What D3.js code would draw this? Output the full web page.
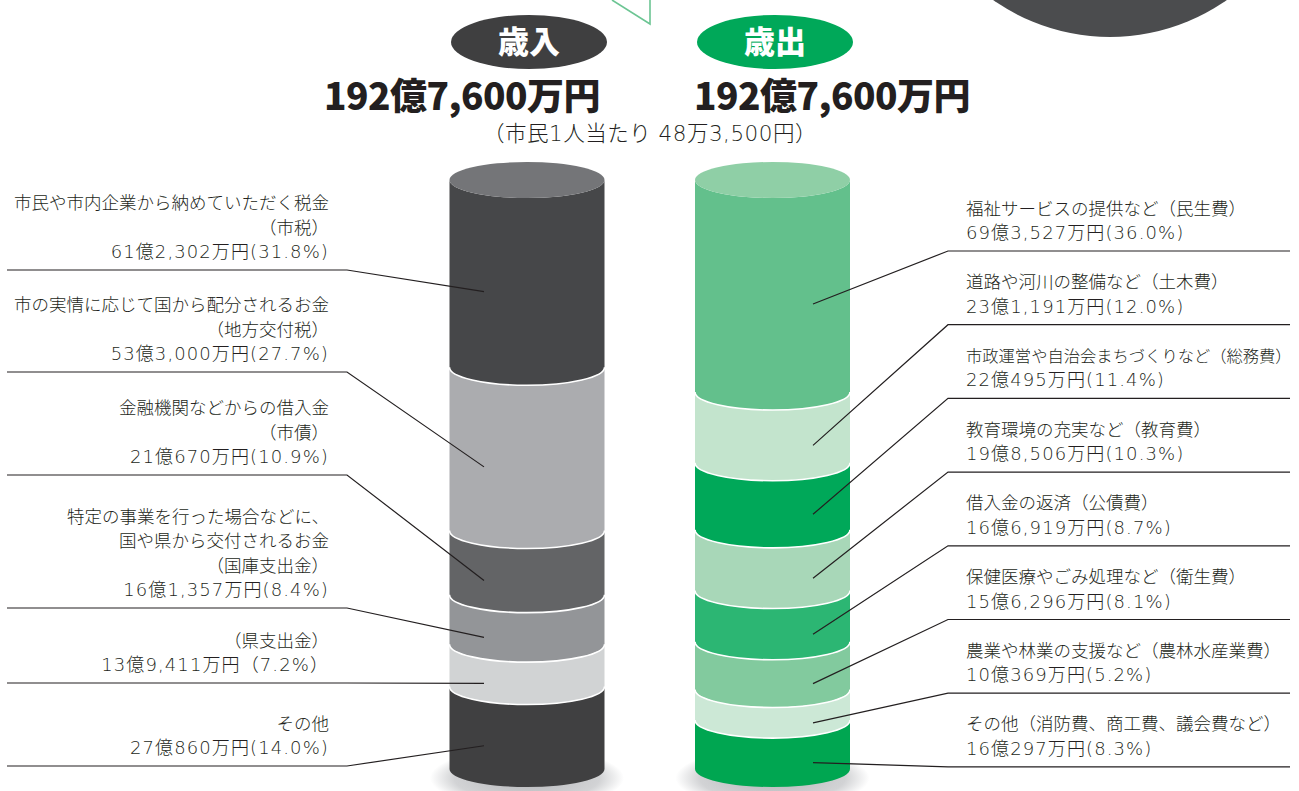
<!DOCTYPE html>
<html>
<head>
<meta charset="utf-8">
<script src="https://cdn.jsdelivr.net/npm/d3@7"></script>
<style>
body { margin: 0; background: #fff; }
svg { display: block; font-family: "Noto Sans CJK JP", "Noto Sans", sans-serif; }
.num { font-family: "DejaVu Sans", "Noto Sans CJK JP", sans-serif; }
</style>
</head>
<body>
<svg width="1299" height="791"></svg>
<script>
// 歳入 (revenue)
const revenueNames = ["市税", "地方交付税", "市債", "国庫支出金", "県支出金", "その他"]
const revenueShares = [31.8, 27.7, 10.9, 8.4, 7.2, 14.0]
const revenueLabels = [
  ["市民や市内企業から納めていただく税金", "（市税）", "61億2,302万円(31.8%)"],
  ["市の実情に応じて国から配分されるお金", "（地方交付税）", "53億3,000万円(27.7%)"],
  ["金融機関などからの借入金", "（市債）", "21億670万円(10.9%)"],
  ["特定の事業を行った場合などに、", "国や県から交付されるお金", "（国庫支出金）", "16億1,357万円(8.4%)"],
  ["（県支出金）", "13億9,411万円（7.2%）"],
  ["その他", "27億860万円(14.0%)"]
]

// 歳出 (expenditure)
const expenseNames = ["民生費", "土木費", "総務費", "教育費", "公債費", "衛生費", "農林水産業費", "その他"]
const expenseShares = [36.0, 12.0, 11.4, 10.3, 8.7, 8.1, 5.2, 8.3]
const expenseLabels = [
  ["福祉サービスの提供など（民生費）", "69億3,527万円(36.0%)"],
  ["道路や河川の整備など（土木費）", "23億1,191万円(12.0%)"],
  ["市政運営や自治会まちづくりなど（総務費）", "22億495万円(11.4%)"],
  ["教育環境の充実など（教育費）", "19億8,506万円(10.3%)"],
  ["借入金の返済（公債費）", "16億6,919万円(8.7%)"],
  ["保健医療やごみ処理など（衛生費）", "15億6,296万円(8.1%)"],
  ["農業や林業の支援など（農林水産業費）", "10億369万円(5.2%)"],
  ["その他（消防費、商工費、議会費など）", "16億297万円(8.3%)"]
]

const totalText = "192億7,600万円"
const perCapitaText = "（市民1人当たり 48万3,500円）"

// styles
const revenueColors = ["#464749", "#abacaf", "#636466", "#939598", "#d1d3d4", "#404041"]
const expenseColors = ["#63c08c", "#c3e4cd", "#00a859", "#a8d7b8", "#2cb673", "#82ca9e", "#cce8d6", "#00a651"]
const ink = "#231f20"

var svg = d3.select('svg')

var defs = svg.append('defs')
var grad = defs.append('radialGradient').attr('id', 'shadow')
grad.append('stop').attr('offset', '0%').attr('stop-color', '#b4b5b8')
grad.append('stop').attr('offset', '75%').attr('stop-color', '#d2d3d5')
grad.append('stop').attr('offset', '100%').attr('stop-color', '#ffffff')

// decorations on top
svg.append('circle')
  .attr('cx', 1110).attr('cy', -166).attr('r', 203)
  .attr('fill', '#4b4c4e')

svg.append('polyline')
  .attr('points', '612,0 650,24 650,0')
  .attr('fill', '#fff')
  .attr('stroke', '#6cc593')
  .attr('stroke-width', 1.6)

// headers
const headers = [
  { cx: 529, text: "歳入", fill: "#3f3f40", tx: 462 },
  { cx: 775, text: "歳出", fill: "#00a859", tx: 832 }
]
headers.forEach(h => {
  svg.append('ellipse')
    .attr('cx', h.cx).attr('cy', 42).attr('rx', 78).attr('ry', 27)
    .attr('fill', h.fill)
  svg.append('text')
    .attr('x', h.cx).attr('y', 53)
    .attr('text-anchor', 'middle')
    .attr('fill', '#fff')
    .attr('font-weight', 900)
    .attr('font-size', 31)
    .text(h.text)
  svg.append('text')
    .attr('x', h.tx).attr('y', 110)
    .attr('text-anchor', 'middle')
    .attr('fill', ink)
    .attr('font-weight', 900)
    .attr('font-size', 37)
    .attr('letter-spacing', -0.5)
    .text(totalText)
})

svg.append('text')
  .attr('class', 'num')
  .attr('x', 650).attr('y', 141)
  .attr('text-anchor', 'middle')
  .attr('fill', ink)
  .attr('font-size', 21.5)
  .attr('font-weight', 300)
  .attr('letter-spacing', 0.5)
  .text(perCapitaText)

// cylinders
const rx = 77.5, ry = 18
const y = d3.scaleLinear().domain([0, 100]).range([180, 769])

const stackUp = (shares) => {
  let acc = 0
  return shares.map((v, i) => {
    const s = { i: i, y0: y(acc), y1: y(acc + v) }
    acc += v
    return s
  })
}

const drawCylinder = (cx, shares, colors, capColor) => {
  const g = svg.append('g')
  const segs = stackUp(shares)

  g.append('ellipse')
    .attr('cx', cx).attr('cy', 778).attr('rx', 97).attr('ry', 30)
    .attr('fill', 'url(#shadow)')

  g.selectAll('path.seg')
    .data(segs)
    .enter()
    .append('path')
    .attr('class', 'seg')
    .attr('fill', d => colors[d.i])
    .attr('d', d => `M${cx - rx},${d.y0} A${rx},${ry} 0 0 0 ${cx + rx},${d.y0} L${cx + rx},${d.y1} A${rx},${ry} 0 0 1 ${cx - rx},${d.y1} Z`)

  g.selectAll('path.sep')
    .data(segs.slice(1))
    .enter()
    .append('path')
    .attr('class', 'sep')
    .attr('fill', 'none')
    .attr('stroke', '#fff')
    .attr('stroke-width', 1.6)
    .attr('d', d => `M${cx - rx},${d.y0} A${rx},${ry} 0 0 0 ${cx + rx},${d.y0}`)

  g.append('ellipse')
    .attr('cx', cx).attr('cy', y(0)).attr('rx', rx).attr('ry', ry)
    .attr('fill', capColor)

  return segs
}

const revSegs = drawCylinder(527, revenueShares, revenueColors, '#747578')
const expSegs = drawCylinder(772.5, expenseShares, expenseColors, '#8fcfa6')

const target = d => (d.y0 + d.y1) / 2 + ry

const lineH = 24.5

// each label line is its own text, shrunk if it would run past the edge
const addLabel = (lines, x, ly, anchor, maxW) => {
  lines.forEach((s, k) => {
    const last = k === lines.length - 1
    const size = last ? 18 : 17.5
    const t = svg.append('text')
      .attr('class', last ? 'num' : null)
      .attr('x', x)
      .attr('y', ly - 12 - (lines.length - 1 - k) * lineH)
      .attr('text-anchor', anchor)
      .attr('fill', ink)
      .attr('font-size', size)
      .attr('font-weight', 300)
      .attr('letter-spacing', last ? 1.1 : null)
      .text(s)
    const w = t.node().getComputedTextLength()
    if (w > maxW) t.attr('font-size', size * maxW / w)
  })
}

// left labels and leaders
const leftLineY = [270, 372, 475, 608, 683, 766]

revSegs.forEach((d, i) => {
  const ly = leftLineY[i]
  svg.append('polyline')
    .attr('points', `7,${ly} 347,${ly} 484,${target(d)}`)
    .attr('fill', 'none')
    .attr('stroke', ink)
    .attr('stroke-width', 1.2)
  addLabel(revenueLabels[i], 329, ly, 'end', 330)
})

// right labels and leaders
const rightLineY = d3.range(expenseShares.length).map(i => 251 + i * 73.7)

expSegs.forEach((d, i) => {
  const ly = rightLineY[i]
  svg.append('polyline')
    .attr('points', `813,${target(d)} 948,${ly} 1290,${ly}`)
    .attr('fill', 'none')
    .attr('stroke', ink)
    .attr('stroke-width', 1.2)
  addLabel(expenseLabels[i], 966, ly, 'start', 326)
})
</script>
</body>
</html>
